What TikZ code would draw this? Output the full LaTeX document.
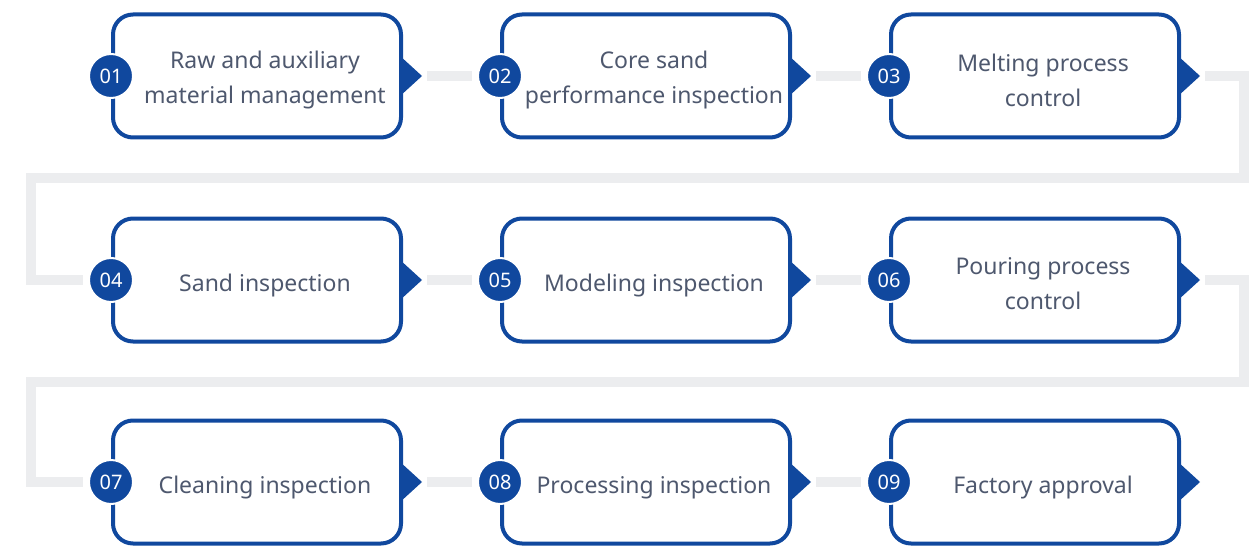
\documentclass[tikz,border=0pt]{standalone}
\usepackage{fontspec}
\setmainfont{Noto Sans}
\usetikzlibrary{positioning, calc}
\definecolor{mainblue}{RGB}{16, 72, 158}
\definecolor{labelgray}{RGB}{78, 88, 110}
\definecolor{linkgray}{RGB}{236, 237, 239}

\begin{document}
\begin{tikzpicture}[
    x=0.5pt, y=-0.5pt,
    stepbox/.style={draw=mainblue, line width=2pt, fill=white, rounded corners=10pt, minimum width=144pt, minimum height=61.5pt},
    num/.style={circle, fill=mainblue, draw=white, line width=1pt, minimum size=22pt, inner sep=0pt, text=white, font=\fontsize{10}{10}\selectfont},
    txt/.style={align=center, text=labelgray, font=\fontsize{11.5}{17.5}\selectfont},
    link/.style={line width=5pt, linkgray, line join=miter},
    tipfill/.style={fill=mainblue}
]
    \useasboundingbox (0,0) rectangle (1258,551);

    % Bends of the grey path between rows
    \coordinate (bendA) at (1244,178);
    \coordinate (bendB) at (31,280);
    \coordinate (bendC) at (1244,382);
    \coordinate (bendD) at (31,482);

    % Boxes
    \node[stepbox] (box1) at (257, 76) {};
    \node[stepbox] (box2) at (646, 76) {};
    \node[stepbox] (box3) at (1035, 76) {};
    \node[stepbox] (box4) at (257, 280) {};
    \node[stepbox] (box5) at (646, 280) {};
    \node[stepbox] (box6) at (1035, 280) {};
    \node[stepbox] (box7) at (257, 482) {};
    \node[stepbox] (box8) at (646, 482) {};
    \node[stepbox] (box9) at (1035, 482) {};

    % Labels
    \node[txt] at ([xshift=4pt, yshift=-2pt]box1.center) {Raw and auxiliary\\material management};
    \node[txt] at ([xshift=4pt, yshift=-2pt]box2.center) {Core sand\\performance inspection};
    \node[txt] at ([xshift=4pt, yshift=-2pt]box3.center) {Melting process\\control};
    \node[txt] at ([xshift=4pt, yshift=-3pt]box4.center) {Sand inspection};
    \node[txt] at ([xshift=4pt, yshift=-3pt]box5.center) {Modeling inspection};
    \node[txt] at ([xshift=4pt, yshift=-2pt]box6.center) {Pouring process\\control};
    \node[txt] at ([xshift=4pt, yshift=-3pt]box7.center) {Cleaning inspection};
    \node[txt] at ([xshift=4pt, yshift=-3pt]box8.center) {Processing inspection};
    \node[txt] at ([xshift=4pt, yshift=-3pt]box9.center) {Factory approval};

    % Numbers
    \node[num] (n1) at (box1.west) {01};
    \node[num] (n2) at (box2.west) {02};
    \node[num] (n3) at (box3.west) {03};
    \node[num] (n4) at (box4.west) {04};
    \node[num] (n5) at (box5.west) {05};
    \node[num] (n6) at (box6.west) {06};
    \node[num] (n7) at (box7.west) {07};
    \node[num] (n8) at (box8.west) {08};
    \node[num] (n9) at (box9.west) {09};

    % Pointers
    \fill[tipfill] ([xshift=-2pt, yshift=10.5pt]box1.east) -- ++(23,21) coordinate (t1) -- ++(-23,21) -- cycle;
    \fill[tipfill] ([xshift=-2pt, yshift=10.5pt]box2.east) -- ++(23,21) coordinate (t2) -- ++(-23,21) -- cycle;
    \fill[tipfill] ([xshift=-2pt, yshift=10.5pt]box3.east) -- ++(23,21) coordinate (t3) -- ++(-23,21) -- cycle;
    \fill[tipfill] ([xshift=-2pt, yshift=10.5pt]box4.east) -- ++(23,21) coordinate (t4) -- ++(-23,21) -- cycle;
    \fill[tipfill] ([xshift=-2pt, yshift=10.5pt]box5.east) -- ++(23,21) coordinate (t5) -- ++(-23,21) -- cycle;
    \fill[tipfill] ([xshift=-2pt, yshift=10.5pt]box6.east) -- ++(23,21) coordinate (t6) -- ++(-23,21) -- cycle;
    \fill[tipfill] ([xshift=-2pt, yshift=10.5pt]box7.east) -- ++(23,21) coordinate (t7) -- ++(-23,21) -- cycle;
    \fill[tipfill] ([xshift=-2pt, yshift=10.5pt]box8.east) -- ++(23,21) coordinate (t8) -- ++(-23,21) -- cycle;
    \fill[tipfill] ([xshift=-2pt, yshift=10.5pt]box9.east) -- ++(23,21) coordinate (t9) -- ++(-23,21) -- cycle;

    % Grey flow
    \draw[link, shorten <=2.5pt, shorten >=2.5pt] (t1) -- (n2);
    \draw[link, shorten <=2.5pt, shorten >=2.5pt] (t2) -- (n3);
    \draw[link, shorten <=2.5pt, shorten >=2.5pt] (t3) -| (bendA) -| (bendB) -- (n4);
    \draw[link, shorten <=2.5pt, shorten >=2.5pt] (t4) -- (n5);
    \draw[link, shorten <=2.5pt, shorten >=2.5pt] (t5) -- (n6);
    \draw[link, shorten <=2.5pt, shorten >=2.5pt] (t6) -| (bendC) -| (bendD) -- (n7);
    \draw[link, shorten <=2.5pt, shorten >=2.5pt] (t7) -- (n8);
    \draw[link, shorten <=2.5pt, shorten >=2.5pt] (t8) -- (n9);

\end{tikzpicture}
\end{document}
